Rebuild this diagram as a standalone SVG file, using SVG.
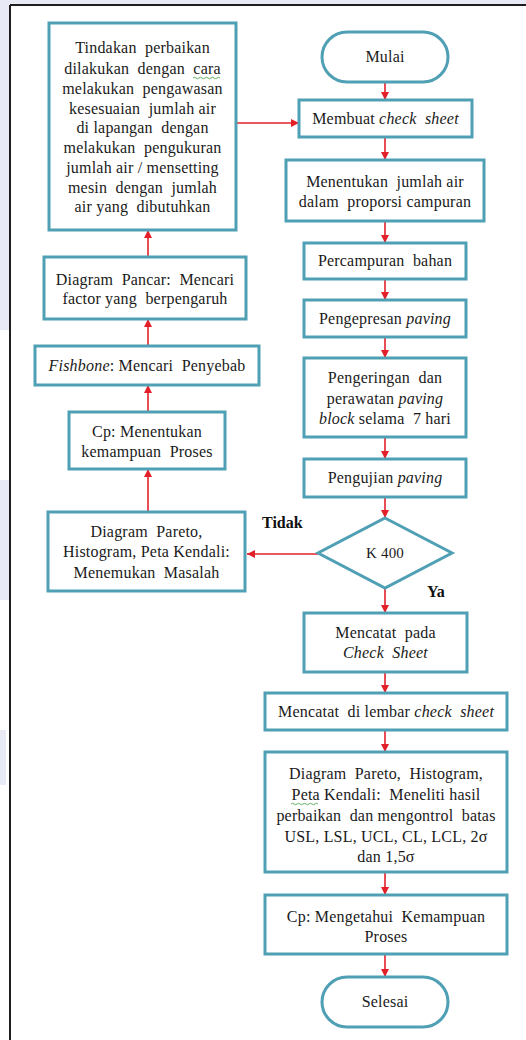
<svg xmlns="http://www.w3.org/2000/svg" width="526" height="1040" viewBox="0 0 526 1040">
  <defs>
    <marker id="arrow" viewBox="0 0 10 10" refX="10" refY="5" markerWidth="8" markerHeight="8" markerUnits="userSpaceOnUse" orient="auto">
      <path d="M0,0 L10,5 L0,10 z" fill="#e3202a"/>
    </marker>
    <style>
      .box { fill: #ffffff; stroke: #4f9fb5; stroke-width: 3; }
      .lbl { font-family: "Liberation Serif", "Times New Roman", serif; font-size: 16px; letter-spacing: 0.2px; fill: #1a1a1a; text-anchor: middle; white-space: pre; }
      .it { font-style: italic; }
      .yn { font-family: "Liberation Serif", "Times New Roman", serif; font-size: 16px; font-weight: bold; fill: #111111; }
      .conn { stroke: #e3202a; stroke-width: 1.6; fill: none; marker-end: url(#arrow); }
      .frame { stroke: #1e1e1e; stroke-width: 2; fill: none; }
      .wm { fill: #e8eaf5; }
      .squig { stroke: #3c9a3c; stroke-width: 0.8; fill: none; }
    </style>
  </defs>

  <rect width="526" height="1040" fill="#ffffff"/>

  <!-- faint background marks outside the frame -->
  <g id="background">
    <rect class="wm" x="0" y="0" width="9" height="330"/>
    <rect class="wm" x="0" y="480" width="9" height="120"/>
    <rect class="wm" x="0" y="730" width="6" height="55"/>
    <rect class="wm" x="0" y="0" width="526" height="4"/>
  </g>

  <!-- frame lines -->
  <g id="frame">
    <line class="frame" x1="10" y1="5" x2="10" y2="1040"/>
    <line class="frame" x1="10" y1="5" x2="526" y2="5"/>
  </g>

  <!-- connectors -->
  <g id="connectors">
    <line class="conn" x1="385" y1="82" x2="385" y2="100"/>
    <line class="conn" x1="236" y1="123" x2="299" y2="123"/>
    <line class="conn" x1="385" y1="137" x2="385" y2="160"/>
    <line class="conn" x1="385" y1="221" x2="385" y2="243"/>
    <line class="conn" x1="385" y1="279" x2="385" y2="300"/>
    <line class="conn" x1="385" y1="337" x2="385" y2="358"/>
    <line class="conn" x1="385" y1="437" x2="385" y2="459"/>
    <line class="conn" x1="385" y1="497" x2="385" y2="518"/>
    <line class="conn" x1="318" y1="554" x2="247" y2="554"/>
    <line class="conn" x1="385" y1="588" x2="385" y2="613"/>
    <line class="conn" x1="385" y1="672" x2="385" y2="693"/>
    <line class="conn" x1="385" y1="730" x2="385" y2="752"/>
    <line class="conn" x1="385" y1="872" x2="385" y2="895"/>
    <line class="conn" x1="385" y1="954" x2="385" y2="977"/>
    <!-- left column, flowing upward -->
    <line class="conn" x1="148" y1="512" x2="148" y2="469"/>
    <line class="conn" x1="148" y1="412" x2="148" y2="385"/>
    <line class="conn" x1="148" y1="346" x2="148" y2="319"/>
    <line class="conn" x1="148" y1="257" x2="148" y2="230"/>
  </g>

  <!-- right column -->
  <g id="mulai">
    <rect class="box" x="322" y="32" width="126" height="50" rx="25" ry="25"/>
    <text class="lbl" x="385" y="62">Mulai</text>
  </g>

  <g id="membuat-check-sheet">
    <rect class="box" x="299" y="100" width="173" height="37"/>
    <text class="lbl" x="385.5" y="124">Membuat <tspan class="it">check  sheet</tspan></text>
  </g>

  <g id="menentukan-jumlah-air">
    <rect class="box" x="286" y="160" width="198" height="61"/>
    <text class="lbl" x="385" y="187">Menentukan  jumlah air</text>
    <text class="lbl" x="385" y="207">dalam  proporsi campuran</text>
  </g>

  <g id="percampuran">
    <rect class="box" x="304" y="243" width="162" height="36"/>
    <text class="lbl" x="385" y="266">Percampuran  bahan</text>
  </g>

  <g id="pengepresan">
    <rect class="box" x="304" y="300" width="162" height="37"/>
    <text class="lbl" x="385" y="324">Pengepresan <tspan class="it">paving</tspan></text>
  </g>

  <g id="pengeringan">
    <rect class="box" x="304" y="358" width="162" height="79"/>
    <text class="lbl" x="385" y="383">Pengeringan  dan</text>
    <text class="lbl" x="385" y="404">perawatan <tspan class="it">paving</tspan></text>
    <text class="lbl" x="385" y="424"><tspan class="it">block</tspan> selama  7 hari</text>
  </g>

  <g id="pengujian">
    <rect class="box" x="304" y="459" width="162" height="38"/>
    <text class="lbl" x="385" y="483">Pengujian <tspan class="it">paving</tspan></text>
  </g>

  <g id="k400">
    <polygon class="box" points="385,518 452,553 385,588 318,553"/>
    <text class="lbl" x="385" y="558" style="font-size:15px">K 400</text>
  </g>

  <text class="yn" x="262" y="528">Tidak</text>
  <text class="yn" x="427" y="597">Ya</text>

  <g id="mencatat-pada">
    <rect class="box" x="304" y="613" width="163" height="59"/>
    <text class="lbl" x="385.5" y="638">Mencatat  pada</text>
    <text class="lbl it" x="385.5" y="658">Check  Sheet</text>
  </g>

  <g id="mencatat-lembar">
    <rect class="box" x="265" y="693" width="242" height="37"/>
    <text class="lbl" x="386" y="717">Mencatat  di lembar <tspan class="it">check  sheet</tspan></text>
  </g>

  <g id="pareto-meneliti">
    <rect class="box" x="265" y="752" width="242" height="120"/>
    <text class="lbl" x="386" y="779">Diagram  Pareto,  Histogram,</text>
    <text class="lbl" x="386" y="800">Peta Kendali:  Meneliti hasil</text>
    <path class="squig" d="M291,804 q1.5,-1.5 3,0 t3,0 t3,0 t3,0 t3,0 t3,0 t3,0 t3,0 t3,0"/>
    <text class="lbl" x="386" y="821">perbaikan  dan mengontrol  batas</text>
    <text class="lbl" x="386" y="842">USL, LSL, UCL, CL, LCL, 2σ</text>
    <text class="lbl" x="386" y="862">dan 1,5σ</text>
  </g>

  <g id="cp-mengetahui">
    <rect class="box" x="265" y="895" width="242" height="59"/>
    <text class="lbl" x="386" y="922">Cp: Mengetahui  Kemampuan</text>
    <text class="lbl" x="386" y="942">Proses</text>
  </g>

  <g id="selesai">
    <rect class="box" x="322" y="977" width="126" height="50" rx="25" ry="25"/>
    <text class="lbl" x="385" y="1007">Selesai</text>
  </g>

  <!-- left column -->
  <g id="tindakan">
    <rect class="box" x="49" y="23" width="187" height="207"/>
    <text class="lbl" x="142.5" y="53">Tindakan  perbaikan</text>
    <text class="lbl" x="142.5" y="74">dilakukan  dengan  cara</text>
    <path class="squig" d="M193,78 q1.5,-1.5 3,0 t3,0 t3,0 t3,0 t3,0 t3,0 t3,0 t3,0 t3,0"/>
    <text class="lbl" x="142.5" y="94">melakukan  pengawasan</text>
    <text class="lbl" x="142.5" y="114">kesesuaian  jumlah air</text>
    <text class="lbl" x="142.5" y="133">di lapangan  dengan</text>
    <text class="lbl" x="142.5" y="153">melakukan  pengukuran</text>
    <text class="lbl" x="142.5" y="173">jumlah air / mensetting</text>
    <text class="lbl" x="142.5" y="193">mesin  dengan  jumlah</text>
    <text class="lbl" x="142.5" y="212">air yang  dibutuhkan</text>
  </g>

  <g id="diagram-pancar">
    <rect class="box" x="44" y="257" width="202" height="62"/>
    <text class="lbl" x="145" y="285">Diagram  Pancar:  Mencari</text>
    <text class="lbl" x="145" y="304">factor yang  berpengaruh</text>
  </g>

  <g id="fishbone">
    <rect class="box" x="35" y="346" width="224" height="39"/>
    <text class="lbl" x="147" y="371"><tspan class="it">Fishbone</tspan>: Mencari  Penyebab</text>
  </g>

  <g id="cp-menentukan">
    <rect class="box" x="69" y="412" width="156" height="57"/>
    <text class="lbl" x="147" y="437">Cp: Menentukan</text>
    <text class="lbl" x="147" y="457">kemampuan  Proses</text>
  </g>

  <g id="pareto-menemukan">
    <rect class="box" x="48" y="512" width="197" height="79"/>
    <text class="lbl" x="146.5" y="537">Diagram  Pareto,</text>
    <text class="lbl" x="146.5" y="557">Histogram, Peta Kendali:</text>
    <text class="lbl" x="146.5" y="578">Menemukan  Masalah</text>
  </g>
</svg>
